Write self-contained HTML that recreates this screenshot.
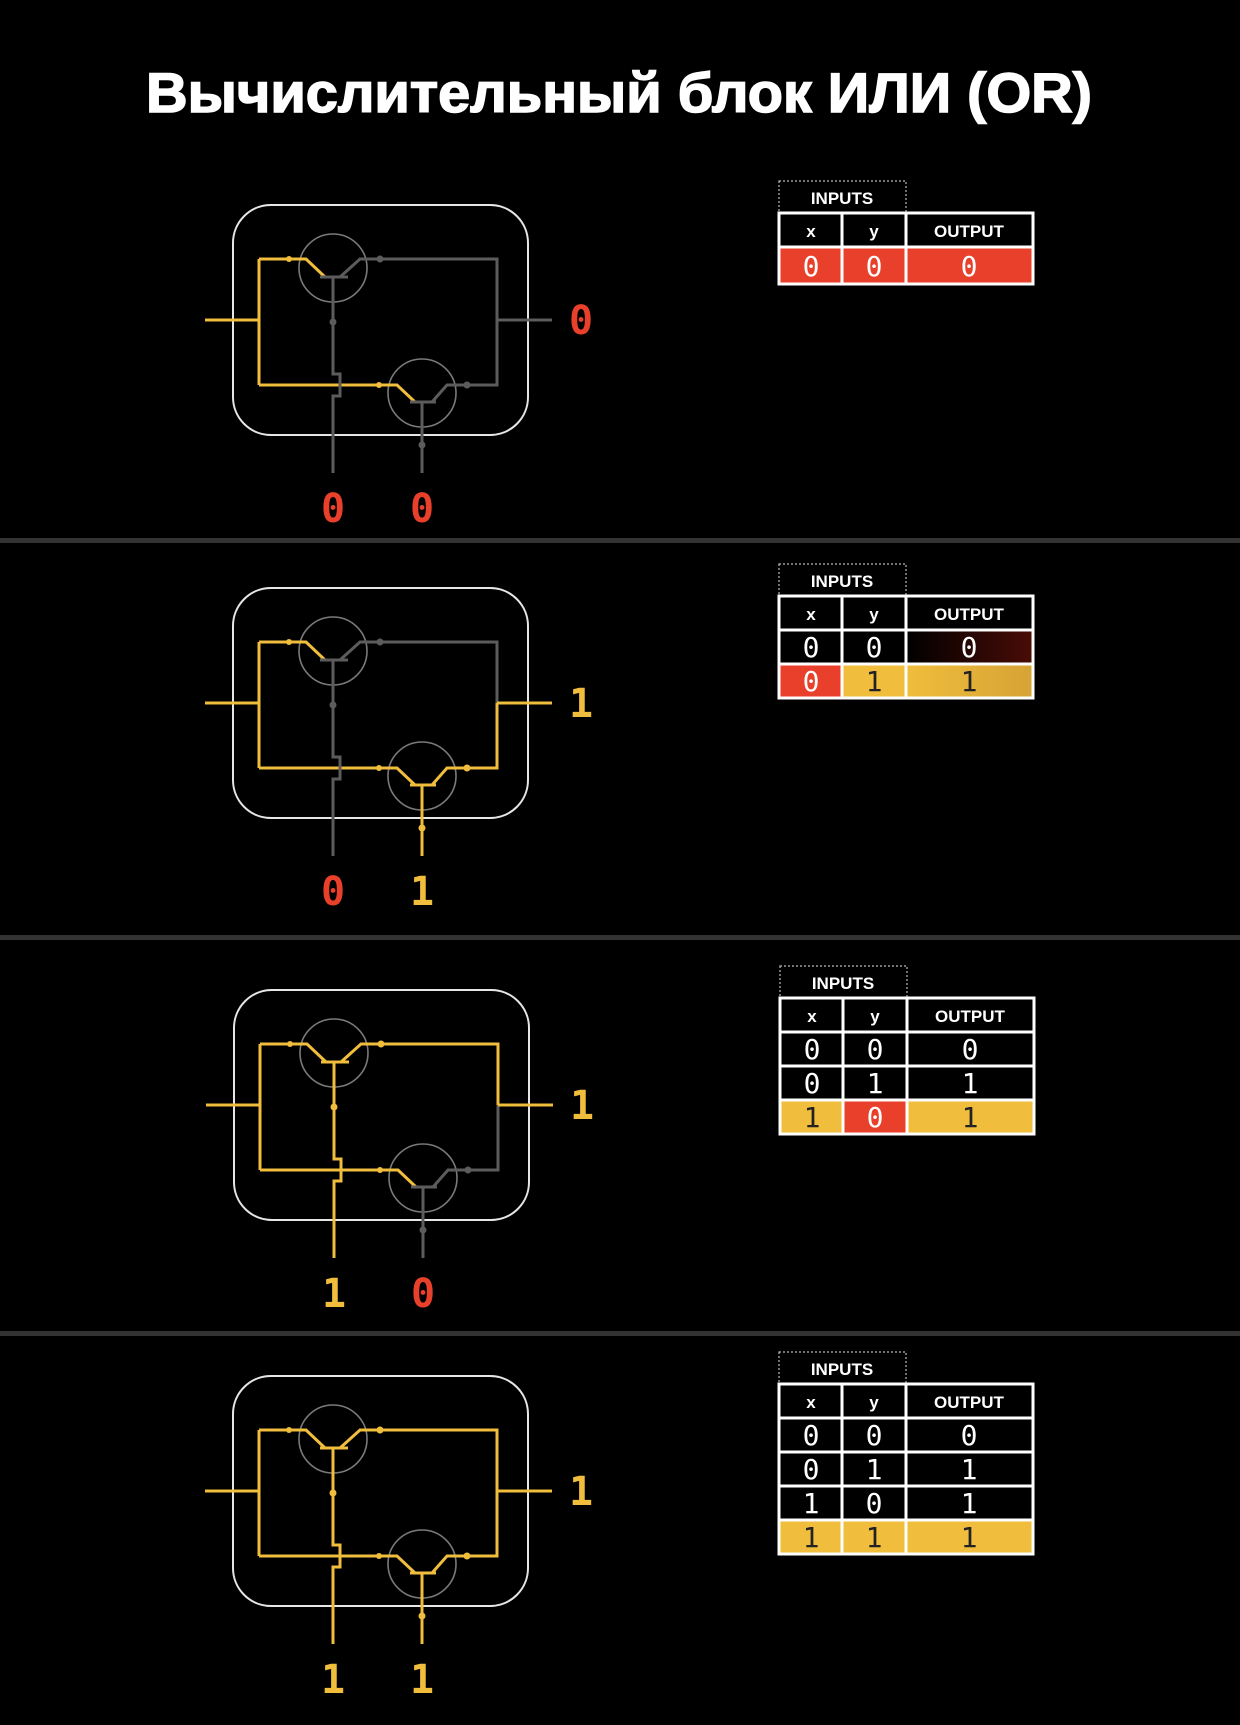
<!DOCTYPE html>
<html><head><meta charset="utf-8"><style>
html,body{margin:0;padding:0;background:#000;}
svg{display:block}
.lbl{font-family:"DejaVu Sans Mono","Liberation Mono",monospace;font-weight:bold;font-size:40px;text-anchor:middle}
.td{font-family:"DejaVu Sans Mono","Liberation Mono",monospace;font-size:28px;text-anchor:middle}
.th{font-family:"Liberation Sans",sans-serif;font-weight:bold;font-size:17px;text-anchor:middle;fill:#fff}
</style></head><body>
<svg width="1240" height="1725" viewBox="0 0 1240 1725" xmlns="http://www.w3.org/2000/svg">
<defs>
<g id="frame">
<rect x="233" y="205" width="295" height="230" rx="38" fill="none" stroke="#e6e6e6" stroke-width="2"/>
<circle cx="333" cy="268" r="34" fill="none" stroke="#7a7a7a" stroke-width="1.6"/>
<circle cx="422" cy="393" r="34" fill="none" stroke="#7a7a7a" stroke-width="1.6"/>
<path d="M205 320H259M259 259V385M259 259H306L325 277M259 385H397L415 402" fill="none" stroke="#f0bd3c" stroke-width="3"/>
<circle cx="289" cy="259" r="3" fill="#f0bd3c"/><circle cx="379" cy="385" r="3" fill="#f0bd3c"/>
</g>
<g id="xw"><path d="M320 277H348M340 277L360 259H497V320M333 277V374H340V396H333V473" fill="none" stroke-width="3"/><circle cx="380" cy="259" r="3"/><circle cx="333" cy="322" r="3"/></g>
<g id="yw"><path d="M410 402H436M432 402L447 385H497V320M422 402V473" fill="none" stroke-width="3"/><circle cx="467" cy="385" r="3"/><circle cx="422" cy="445" r="3"/></g>
<linearGradient id="dr" x1="0" x2="1"><stop offset="0" stop-color="#000"/><stop offset="1" stop-color="#4a0c06"/></linearGradient>
<linearGradient id="yg" x1="0" x2="1"><stop offset="0" stop-color="#f0bd3c"/><stop offset="1" stop-color="#d6a336"/></linearGradient>
</defs>
<text x="619" y="112" textLength="946" lengthAdjust="spacingAndGlyphs" font-family="'Liberation Sans',sans-serif" font-weight="bold" font-size="56" fill="#fff" stroke="#fff" stroke-width="1.5" text-anchor="middle">Вычислительный блок ИЛИ (OR)</text>

<rect x="0" y="538" width="1240" height="5" fill="#333"/>
<rect x="0" y="935" width="1240" height="5" fill="#333"/>
<rect x="0" y="1331" width="1240" height="5" fill="#333"/>

<g>
<use href="#frame"/>
<use href="#xw" stroke="#5c5c5c" fill="#5c5c5c"/>
<use href="#yw" stroke="#5c5c5c" fill="#5c5c5c"/>
<path d="M497 320H552" stroke="#5c5c5c" stroke-width="3"/>
<text class="lbl" x="581" y="334" fill="#e8402a">0</text>
<text class="lbl" x="333" y="522" fill="#e8402a">0</text>
<text class="lbl" x="422" y="522" fill="#e8402a">0</text>
</g>
<g transform="translate(0,383)">
<use href="#frame"/>
<use href="#xw" stroke="#5c5c5c" fill="#5c5c5c"/>
<use href="#yw" stroke="#f0bd3c" fill="#f0bd3c"/>
<path d="M497 320H552" stroke="#f0bd3c" stroke-width="3"/>
<text class="lbl" x="581" y="334" fill="#f0bd3c">1</text>
<text class="lbl" x="333" y="522" fill="#e8402a">0</text>
<text class="lbl" x="422" y="522" fill="#f0bd3c">1</text>
</g>
<g transform="translate(1,785)">
<use href="#frame"/>
<use href="#yw" stroke="#5c5c5c" fill="#5c5c5c"/>
<use href="#xw" stroke="#f0bd3c" fill="#f0bd3c"/>
<path d="M497 320H552" stroke="#f0bd3c" stroke-width="3"/>
<text class="lbl" x="581" y="334" fill="#f0bd3c">1</text>
<text class="lbl" x="333" y="522" fill="#f0bd3c">1</text>
<text class="lbl" x="422" y="522" fill="#e8402a">0</text>
</g>
<g transform="translate(0,1171)">
<use href="#frame"/>
<use href="#xw" stroke="#f0bd3c" fill="#f0bd3c"/>
<use href="#yw" stroke="#f0bd3c" fill="#f0bd3c"/>
<path d="M497 320H552" stroke="#f0bd3c" stroke-width="3"/>
<text class="lbl" x="581" y="334" fill="#f0bd3c">1</text>
<text class="lbl" x="333" y="522" fill="#f0bd3c">1</text>
<text class="lbl" x="422" y="522" fill="#f0bd3c">1</text>
</g>

<defs>
<g id="thd">
<rect x="779" y="181" width="127" height="32" fill="none" stroke="#bbb" stroke-width="1.2" stroke-dasharray="2,2"/>
<text class="th" x="842" y="204">INPUTS</text>
<rect x="779" y="213" width="63" height="34" fill="#000" stroke="#fff" stroke-width="3"/>
<rect x="842" y="213" width="64" height="34" fill="#000" stroke="#fff" stroke-width="3"/>
<rect x="906" y="213" width="127" height="34" fill="#000" stroke="#fff" stroke-width="3"/>
<text class="th" x="811" y="237">x</text>
<text class="th" x="874" y="237">y</text>
<text class="th" x="969" y="237">OUTPUT</text>
</g>
</defs>

<g>
<use href="#thd"/>
<rect x="779" y="247" width="63" height="37" fill="#e8402a" stroke="#fff" stroke-width="3"/>
<rect x="842" y="247" width="64" height="37" fill="#e8402a" stroke="#fff" stroke-width="3"/>
<rect x="906" y="247" width="127" height="37" fill="#e8402a" stroke="#fff" stroke-width="3"/>
<text class="td" x="811" y="276" fill="#fff">0</text><text class="td" x="874" y="276" fill="#fff">0</text><text class="td" x="969" y="276" fill="#fff">0</text>
</g>
<g transform="translate(0,383)">
<use href="#thd"/>
<rect x="779" y="247" width="63" height="34" fill="#000" stroke="#fff" stroke-width="3"/>
<rect x="842" y="247" width="64" height="34" fill="#000" stroke="#fff" stroke-width="3"/>
<rect x="906" y="247" width="127" height="34" fill="url(#dr)" stroke="#fff" stroke-width="3"/>
<rect x="779" y="281" width="63" height="34" fill="#e8402a" stroke="#fff" stroke-width="3"/>
<rect x="842" y="281" width="64" height="34" fill="#f0bd3c" stroke="#fff" stroke-width="3"/>
<rect x="906" y="281" width="127" height="34" fill="url(#yg)" stroke="#fff" stroke-width="3"/>
<text class="td" x="811" y="274" fill="#fff">0</text><text class="td" x="874" y="274" fill="#fff">0</text><text class="td" x="969" y="274" fill="#fff">0</text>
<text class="td" x="811" y="308" fill="#fff">0</text><text class="td" x="874" y="308" fill="#222">1</text><text class="td" x="969" y="308" fill="#222">1</text>
</g>
<g transform="translate(1,785)">
<use href="#thd"/>
<rect x="779" y="247" width="63" height="34" fill="#000" stroke="#fff" stroke-width="3"/>
<rect x="842" y="247" width="64" height="34" fill="#000" stroke="#fff" stroke-width="3"/>
<rect x="906" y="247" width="127" height="34" fill="#000" stroke="#fff" stroke-width="3"/>
<rect x="779" y="281" width="63" height="34" fill="#000" stroke="#fff" stroke-width="3"/>
<rect x="842" y="281" width="64" height="34" fill="#000" stroke="#fff" stroke-width="3"/>
<rect x="906" y="281" width="127" height="34" fill="#000" stroke="#fff" stroke-width="3"/>
<rect x="779" y="315" width="63" height="34" fill="#f0bd3c" stroke="#fff" stroke-width="3"/>
<rect x="842" y="315" width="64" height="34" fill="#e8402a" stroke="#fff" stroke-width="3"/>
<rect x="906" y="315" width="127" height="34" fill="#f0bd3c" stroke="#fff" stroke-width="3"/>
<text class="td" x="811" y="274" fill="#fff">0</text><text class="td" x="874" y="274" fill="#fff">0</text><text class="td" x="969" y="274" fill="#fff">0</text>
<text class="td" x="811" y="308" fill="#fff">0</text><text class="td" x="874" y="308" fill="#fff">1</text><text class="td" x="969" y="308" fill="#fff">1</text>
<text class="td" x="811" y="342" fill="#222">1</text><text class="td" x="874" y="342" fill="#fff">0</text><text class="td" x="969" y="342" fill="#222">1</text>
</g>
<g transform="translate(0,1171)">
<use href="#thd"/>
<rect x="779" y="247" width="63" height="34" fill="#000" stroke="#fff" stroke-width="3"/>
<rect x="842" y="247" width="64" height="34" fill="#000" stroke="#fff" stroke-width="3"/>
<rect x="906" y="247" width="127" height="34" fill="#000" stroke="#fff" stroke-width="3"/>
<rect x="779" y="281" width="63" height="34" fill="#000" stroke="#fff" stroke-width="3"/>
<rect x="842" y="281" width="64" height="34" fill="#000" stroke="#fff" stroke-width="3"/>
<rect x="906" y="281" width="127" height="34" fill="#000" stroke="#fff" stroke-width="3"/>
<rect x="779" y="315" width="63" height="34" fill="#000" stroke="#fff" stroke-width="3"/>
<rect x="842" y="315" width="64" height="34" fill="#000" stroke="#fff" stroke-width="3"/>
<rect x="906" y="315" width="127" height="34" fill="#000" stroke="#fff" stroke-width="3"/>
<rect x="779" y="349" width="63" height="34" fill="#f0bd3c" stroke="#fff" stroke-width="3"/>
<rect x="842" y="349" width="64" height="34" fill="#f0bd3c" stroke="#fff" stroke-width="3"/>
<rect x="906" y="349" width="127" height="34" fill="#f0bd3c" stroke="#fff" stroke-width="3"/>
<text class="td" x="811" y="274" fill="#fff">0</text><text class="td" x="874" y="274" fill="#fff">0</text><text class="td" x="969" y="274" fill="#fff">0</text>
<text class="td" x="811" y="308" fill="#fff">0</text><text class="td" x="874" y="308" fill="#fff">1</text><text class="td" x="969" y="308" fill="#fff">1</text>
<text class="td" x="811" y="342" fill="#fff">1</text><text class="td" x="874" y="342" fill="#fff">0</text><text class="td" x="969" y="342" fill="#fff">1</text>
<text class="td" x="811" y="376" fill="#222">1</text><text class="td" x="874" y="376" fill="#222">1</text><text class="td" x="969" y="376" fill="#222">1</text>
</g>
</svg>
</body></html>
